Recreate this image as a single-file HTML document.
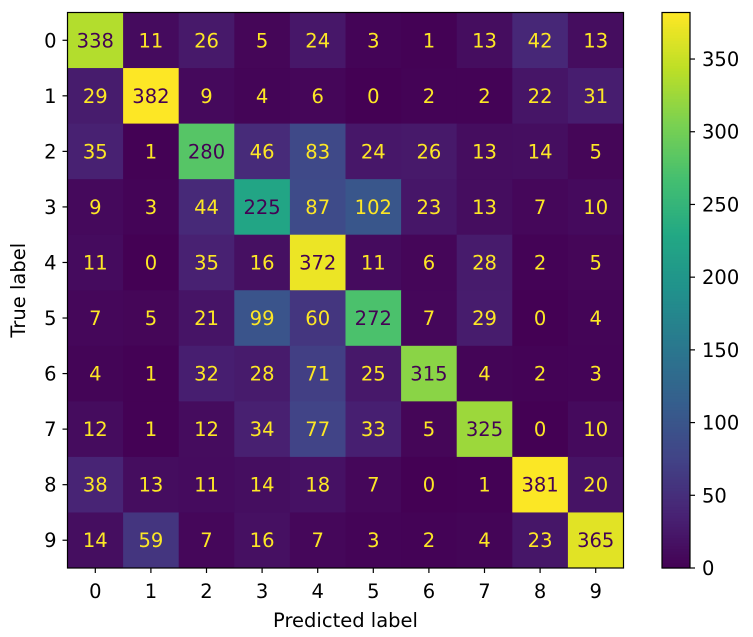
<!DOCTYPE html>
<html><head><meta charset="utf-8"><style>
body{margin:0;background:#fff;}
svg{display:block;font-family:"DejaVu Sans","Liberation Sans",sans-serif;}
</style></head><body>
<svg id="s" width="753" height="637" xmlns="http://www.w3.org/2000/svg"></svg>
<script>
const M=[[338,11,26,5,24,3,1,13,42,13],[29,382,9,4,6,0,2,2,22,31],[35,1,280,46,83,24,26,13,14,5],[9,3,44,225,87,102,23,13,7,10],[11,0,35,16,372,11,6,28,2,5],[7,5,21,99,60,272,7,29,0,4],[4,1,32,28,71,25,315,4,2,3],[12,1,12,34,77,33,5,325,0,10],[38,13,11,14,18,7,0,1,381,20],[14,59,7,16,7,3,2,4,23,365]];
const V=["440154","482475","414487","355f8d","2a788e","21918c","22a884","44bf70","7ad151","bddf26","fde725"];
function col(t){t=Math.max(0,Math.min(1,t));const f=t*10,i=Math.min(9,Math.floor(f)),u=f-i;
const a=V[i],b=V[i+1];let r=[];for(let k=0;k<3;k++){const x=parseInt(a.substr(2*k,2),16),y=parseInt(b.substr(2*k,2),16);r.push(Math.round(x+(y-x)*u));}return `rgb(${r})`;}
const L=67.5,T=12.5,W=556,H=555.5,cw=W/10,ch=H/10,mx=382,FS=19.5;
let h="";
for(let i=0;i<10;i++)for(let j=0;j<10;j++){const v=M[i][j];
h+=`<rect x="${L+j*cw}" y="${T+i*ch}" width="${cw+0.5}" height="${ch+0.5}" fill="${col(v/mx)}"/>`;
h+=`<text x="${L+(j+.5)*cw}" y="${T+(i+.5)*ch+7}" font-size="${FS}" text-anchor="middle" fill="${v>191?'#440154':'#fde725'}">${v}</text>`;}
h+=`<rect x="${L}" y="${T}" width="${W}" height="${H}" fill="none" stroke="#000" stroke-width="1.2"/>`;
for(let k=0;k<10;k++){const x=L+(k+.5)*cw,y=T+(k+.5)*ch;
h+=`<line x1="${x}" y1="${T+H}" x2="${x}" y2="${T+H+5}" stroke="#000" stroke-width="1.2"/><text x="${x}" y="${T+H+30}" font-size="${FS}" text-anchor="middle">${k}</text>`;
h+=`<line x1="${L-5}" y1="${y}" x2="${L}" y2="${y}" stroke="#000" stroke-width="1.2"/><text x="${L-11}" y="${y+7}" font-size="${FS}" text-anchor="end">${k}</text>`;}
h+=`<text x="${L+W/2}" y="627" font-size="${FS}" text-anchor="middle">Predicted label</text>`;
h+=`<text transform="translate(25,${T+H/2}) rotate(-90)" font-size="${FS}" text-anchor="middle">True label</text>`;
const cx=662,cwid=28,CT=12.5,CH=555.5;
for(let p=0;p<200;p++){const y0=CT+CH-(p+1)*CH/200;h+=`<rect x="${cx}" y="${y0}" width="${cwid}" height="${CH/200+0.6}" fill="${col((p+.5)/200)}"/>`;}
h+=`<rect x="${cx}" y="${CT}" width="${cwid}" height="${CH}" fill="none" stroke="#000" stroke-width="1.2"/>`;
for(let v=0;v<=350;v+=50){const y=CT+CH-v/mx*CH;h+=`<line x1="${cx+cwid}" y1="${y}" x2="${cx+cwid+5}" y2="${y}" stroke="#000" stroke-width="1.2"/><text x="${cx+cwid+12}" y="${y+7}" font-size="${FS}">${v}</text>`;}
document.getElementById("s").innerHTML=h;
</script>
</body></html>
